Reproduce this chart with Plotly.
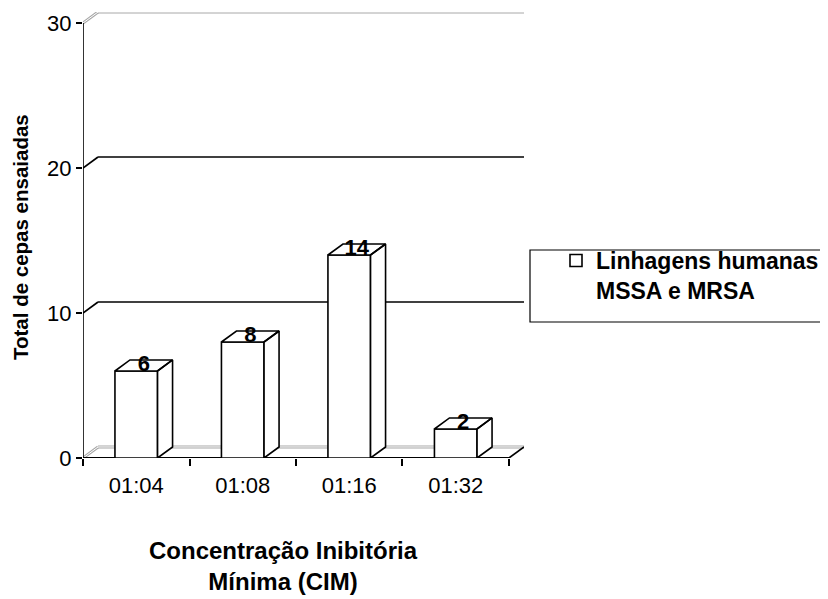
import plotly.graph_objects as go

categories = ["01:04", "01:08", "01:16", "01:32"]
values = [6, 8, 14, 2]
series_name = "Linhagens humanas<br>MSSA e MRSA"
y_ticks = [0, 10, 20, 30]

# 3D depth offsets expressed in axis units
DX = 0.141
DY = 0.76
BAR_W = 0.40

xs = list(range(len(categories)))
x0, x1 = -0.5, len(categories) - 0.5
ymax = y_ticks[-1]

FONT = "Liberation Sans, Arial"

fig = go.Figure()

# front faces
fig.add_trace(go.Bar(
    x=xs, y=values, width=BAR_W, name=series_name,
    marker=dict(color="white", line=dict(color="black", width=1.6)),
    showlegend=True,
))

# top and side faces
px, py = [], []
for c, v in zip(xs, values):
    l, r = c - BAR_W / 2, c + BAR_W / 2
    px += [l, l + DX, r + DX, r, l, None]
    py += [v, v + DY, v + DY, v, v, None]
    px += [r, r + DX, r + DX, r, r, None]
    py += [0, DY, v + DY, v, 0, None]
fig.add_trace(go.Scatter(
    x=px, y=py, mode="lines", fill="toself", fillcolor="white",
    line=dict(color="black", width=1.6), showlegend=False, hoverinfo="skip",
))

# value labels
fig.add_trace(go.Scatter(
    x=[c + DX / 2 for c in xs], y=[v + DY / 2 for v in values],
    mode="text", text=[str(v) for v in values], textposition="middle center",
    textfont=dict(family=FONT, size=22, color="black", weight="bold"),
    showlegend=False, hoverinfo="skip",
))

shapes = []
def seg(xa, ya, xb, yb, color="black", width=1.6):
    shapes.append(dict(type="line", xref="x", yref="y", x0=xa, y0=ya, x1=xb, y1=yb,
                       line=dict(color=color, width=width), layer="below"))

def dbl(xa, ya, xb, yb):
    seg(xa, ya, xb, yb, color="#a8a8a8", width=3)
    seg(xa, ya, xb, yb, color="white", width=1)

for t in y_ticks:
    if t in (0, ymax):
        dbl(x0, t, x0 + DX, t + DY)
        dbl(x0 + DX, t + DY, x1 + DX, t + DY)
    else:
        seg(x0, t, x0 + DX, t + DY)
        seg(x0 + DX, t + DY, x1 + DX, t + DY)

# front axes
seg(x0, 0, x0, ymax, width=1.6)
seg(x0, 0, x1, 0, width=2.2)
seg(x1, 0, x1 + DX, DY, width=1.6)

# legend frame
shapes.append(dict(type="rect", xref="paper", yref="paper",
                   x0=(530 - 83) / 441, x1=(826 - 83) / 441,
                   y0=(458 - 322) / 446, y1=(458 - 250) / 446,
                   line=dict(color="black", width=1.2), fillcolor="rgba(0,0,0,0)"))

fig.update_layout(
    width=820, height=591,
    margin=dict(l=75, r=304, t=4, b=141),
    paper_bgcolor="white", plot_bgcolor="white",
    font=dict(family=FONT, size=20, color="black"),
    shapes=shapes,
    showlegend=True,
    legend=dict(
        x=(556 - 83) / 441, y=(458 - 239) / 446, xanchor="left", yanchor="top",
        valign="top", bgcolor="rgba(0,0,0,0)", borderwidth=0,
        font=dict(family=FONT, size=23, color="black", weight="bold"),
    ),
    annotations=[
        dict(text="Concentração Inibitória<br>Mínima (CIM)", xref="paper", yref="paper",
             x=(283 - 83) / 441, y=(458 - 566) / 446, xanchor="center", yanchor="middle",
             showarrow=False,
             font=dict(family=FONT, size=24, color="black", weight="bold")),
        dict(text="Total de cepas ensaiadas", xref="paper", yref="paper",
             x=(20 - 83) / 441, y=(458 - 237) / 446, xanchor="center", yanchor="middle",
             textangle=-90, showarrow=False,
             font=dict(family=FONT, size=20.5, color="black", weight="bold")),
    ],
)

fig.update_xaxes(
    range=[x0, x1 + DX], tickvals=xs, ticktext=categories, ticks="",
    showgrid=False, zeroline=False, showline=False,
    tickfont=dict(size=22), ticklabelstandoff=12,
    minor=dict(ticks="outside", tick0=-0.5, dtick=1, ticklen=7, tickwidth=1.5, tickcolor="black", showgrid=False),
)
fig.update_yaxes(
    range=[0, ymax + DY], tickvals=y_ticks, ticks="outside", ticklen=6, tickwidth=1.5,
    tickcolor="black", showgrid=False, zeroline=False, showline=False,
    tickfont=dict(size=22),
)

fig.write_html("out.html")
